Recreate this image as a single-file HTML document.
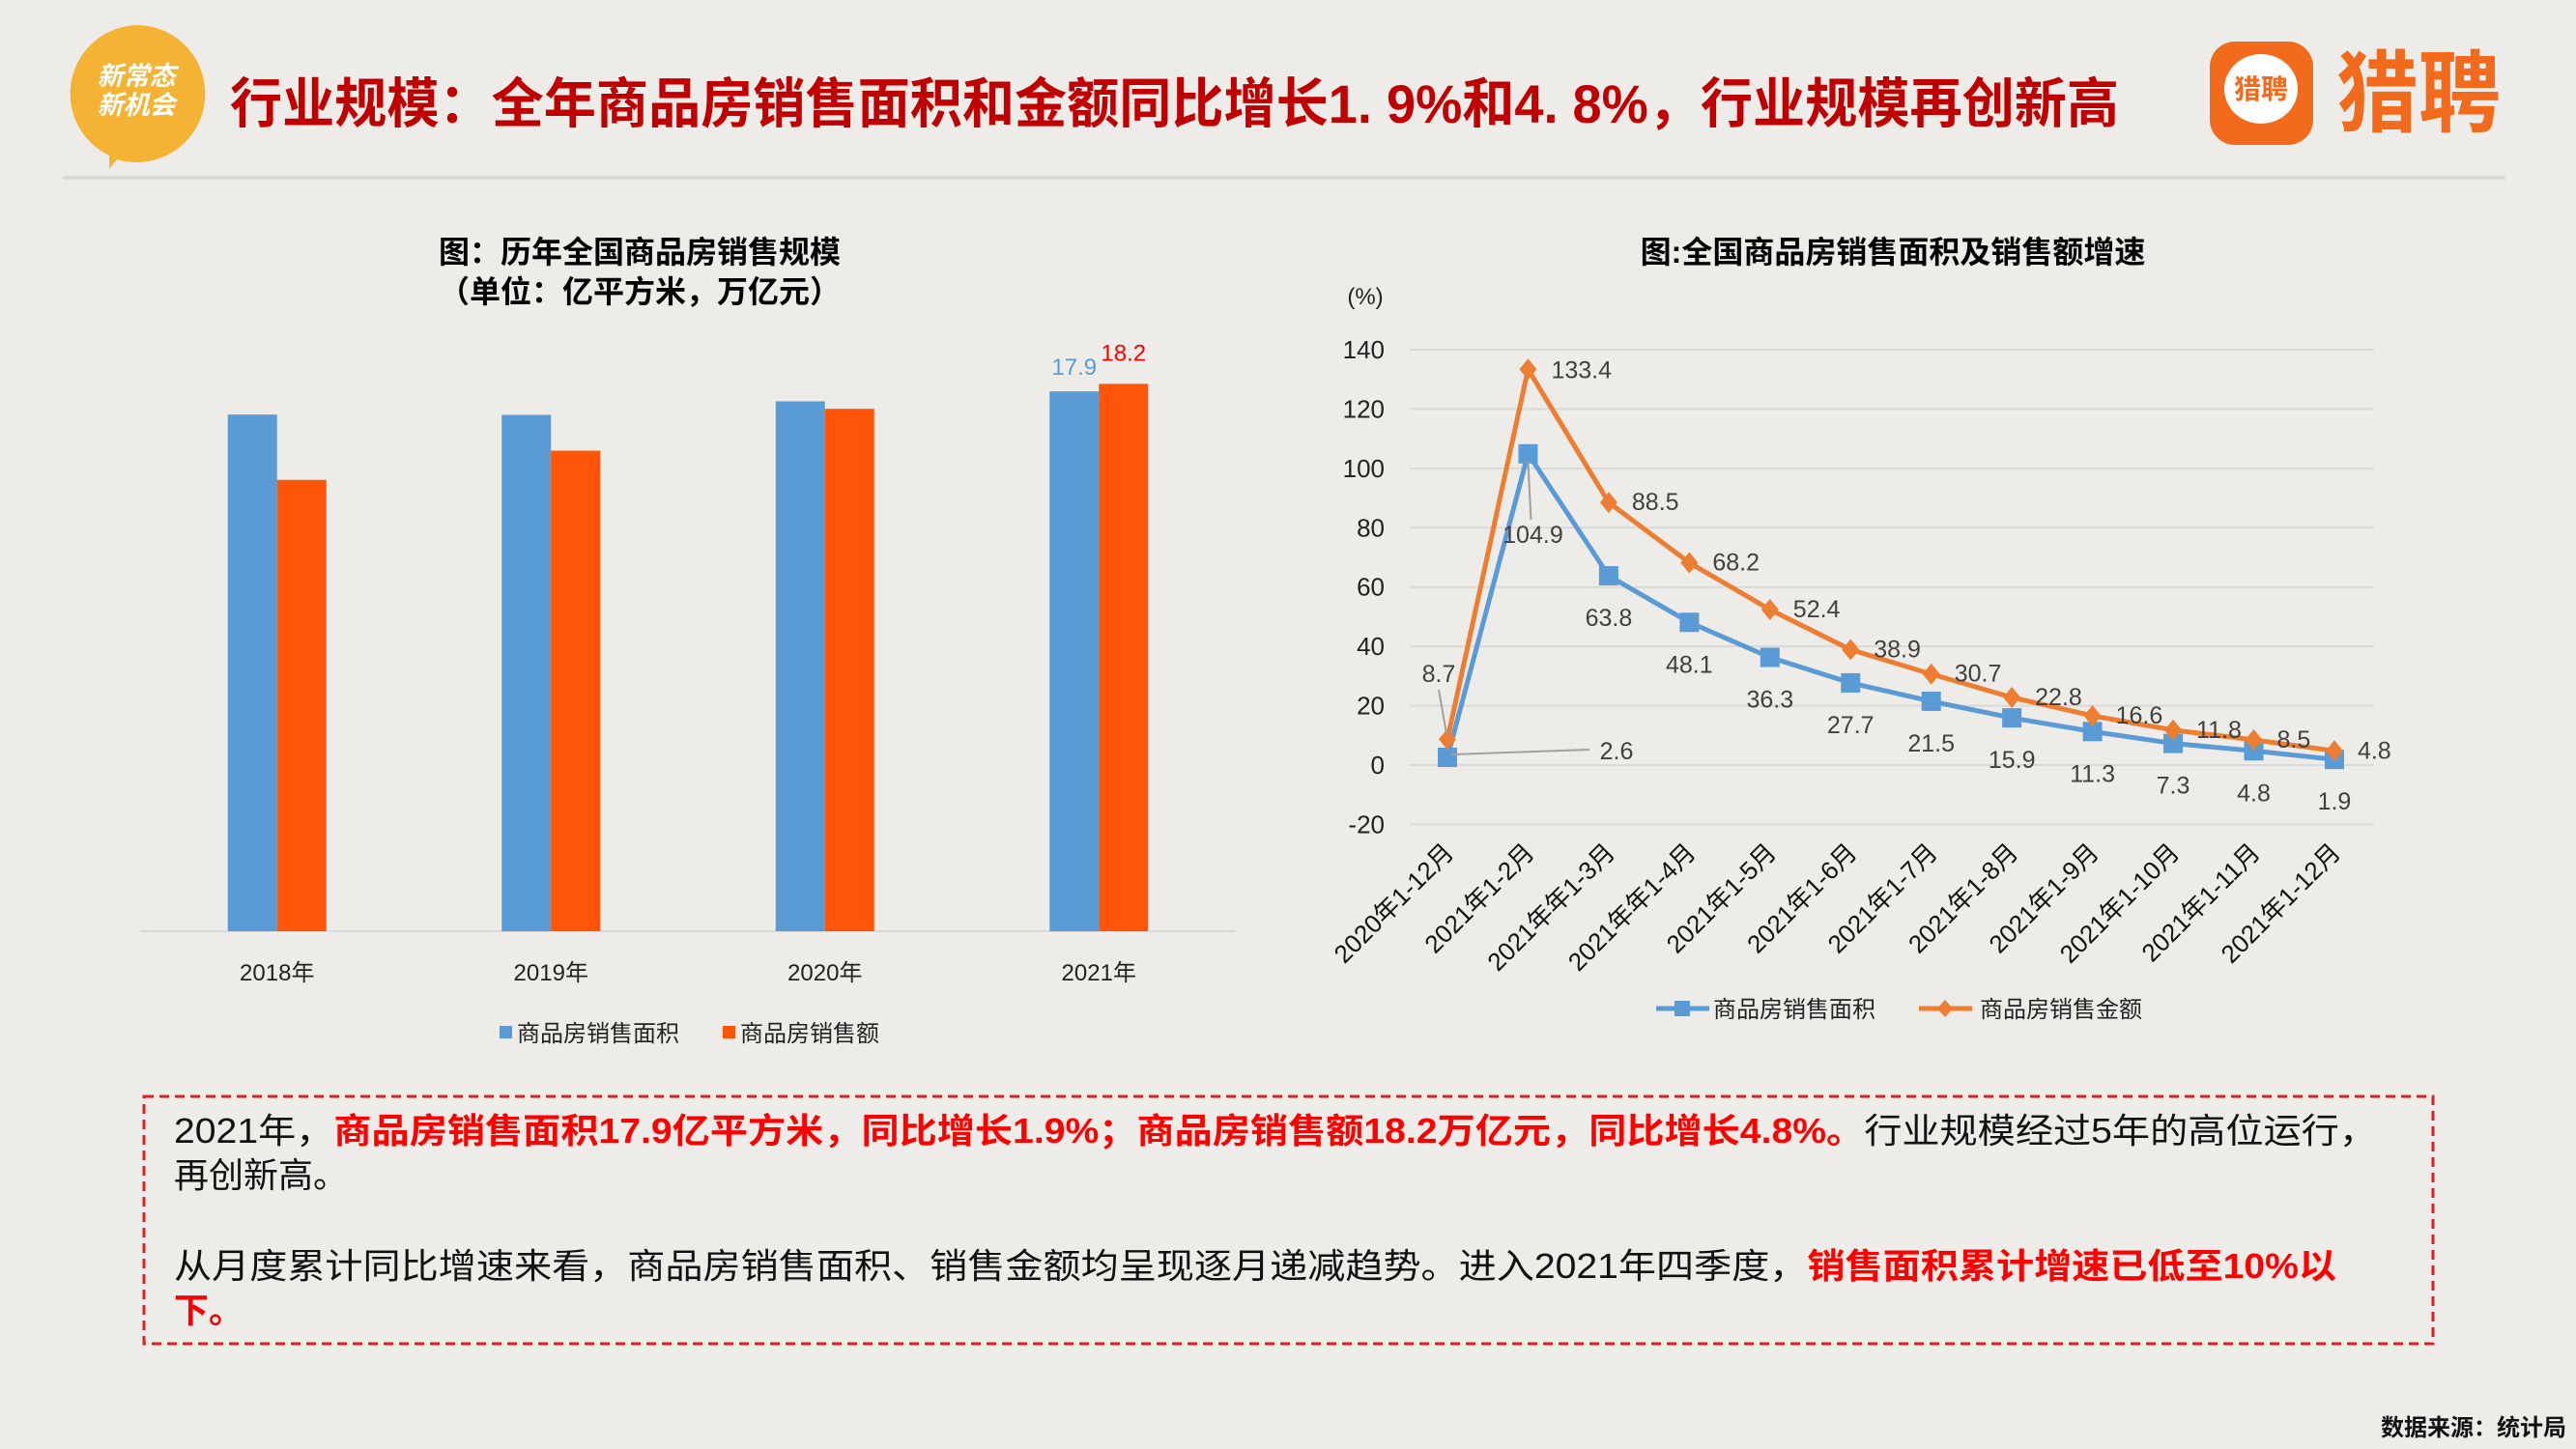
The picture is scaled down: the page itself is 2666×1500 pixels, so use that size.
<!DOCTYPE html>
<html><head><meta charset="utf-8"><style>
html,body{margin:0;padding:0;background:#eeece8;}
svg{display:block;font-family:"Liberation Sans","Noto Sans CJK SC",sans-serif;}
</style></head><body>
<svg id="s" width="2666" height="1500" viewBox="0 0 2666 1500" xmlns="http://www.w3.org/2000/svg">
<rect width="2666" height="1500" fill="#eeece8"/>
<g>
<path d="M141 26 a71 71 0 1 1 -20 139 l-8 10 l0 -14 a71 71 0 0 1 28 -135z" fill="#f5b335"/>
<text x="141" y="88" font-size="27" font-weight="bold" fill="#fff" text-anchor="middle" font-style="italic">新常态</text>
<text x="141" y="118" font-size="27" font-weight="bold" fill="#fff" text-anchor="middle" font-style="italic">新机会</text>
</g>
<text x="238" y="127" font-size="56" font-weight="bold" fill="#c00000" textLength="1955" lengthAdjust="spacingAndGlyphs">行业规模：全年商品房销售面积和金额同比增长1. 9%和4. 8%，行业规模再创新高</text>
<g>
<rect x="2287" y="43" width="107" height="107" rx="26" fill="#f26b1d"/>
<ellipse cx="2340" cy="92" rx="38" ry="36" fill="#fff"/>
<text x="2340" y="102" font-size="28" font-weight="bold" fill="#f26b1d" text-anchor="middle">猎聘</text>
<text x="2418" y="129" font-size="92" font-weight="bold" fill="#f26b1d" textLength="170" lengthAdjust="spacingAndGlyphs">猎聘</text>
</g>
<rect x="65" y="182" width="2528" height="4" fill="#d9d7d3"/>

<text x="662" y="272" font-size="32" font-weight="bold" fill="#000" text-anchor="middle">图：历年全国商品房销售规模</text>
<text x="662" y="313" font-size="32" font-weight="bold" fill="#000" text-anchor="middle">（单位：亿平方米，万亿元）</text>
<g id="barChart"></g>

<text x="1959" y="272" font-size="32" font-weight="bold" fill="#000" text-anchor="middle">图:全国商品房销售面积及销售额增速</text>
<g id="lineChart"></g>

<rect x="149" y="1135" width="2369" height="256" fill="none" stroke="#e02020" stroke-width="3" stroke-dasharray="10,6"/>
<text x="180" y="1183" font-size="36" fill="#111" textLength="2280" lengthAdjust="spacingAndGlyphs">2021年，<tspan fill="#ff0000" font-weight="bold">商品房销售面积17.9亿平方米，同比增长1.9%；商品房销售额18.2万亿元，同比增长4.8%。</tspan>行业规模经过5年的高位运行，</text>
<text x="180" y="1229" font-size="36" fill="#111">再创新高。</text>
<text x="180" y="1323" font-size="36" fill="#111" textLength="2238" lengthAdjust="spacingAndGlyphs">从月度累计同比增速来看，商品房销售面积、销售金额均呈现逐月递减趋势。进入2021年四季度，<tspan fill="#ff0000" font-weight="bold">销售面积累计增速已低至10%以</tspan></text>
<text x="180" y="1369" font-size="36" fill="#ff0000" font-weight="bold">下。</text>
<text x="2656" y="1486" font-size="24" font-weight="bold" fill="#111" text-anchor="end">数据来源：统计局</text>
</svg>
<script>
const NS="http://www.w3.org/2000/svg";
// Bar chart data
const barYears=["2018年","2019年","2020年","2021年"];
const areaValues=[17.17,17.16,17.61,17.94];
const salesValues=[15.0,15.97,17.36,18.19];
// Line chart data
const monthCats=["2020年1-12月","2021年1-2月","2021年年1-3月","2021年年1-4月","2021年1-5月","2021年1-6月","2021年1-7月","2021年1-8月","2021年1-9月","2021年1-10月","2021年1-11月","2021年1-12月"];
const areaGrowth=[2.6,104.9,63.8,48.1,36.3,27.7,21.5,15.9,11.3,7.3,4.8,1.9];
const salesGrowth=[8.7,133.4,88.5,68.2,52.4,38.9,30.7,22.8,16.6,11.8,8.5,4.8];
const yTicks=[-20,0,20,40,60,80,100,120,140];

function mk(tag,attrs,parent,txt){const e=document.createElementNS(NS,tag);for(const k in attrs)e.setAttribute(k,attrs[k]);if(txt!==undefined)e.textContent=txt;parent.appendChild(e);return e;}

// ---- bar chart ----
const bc=document.getElementById('barChart');
const bBase=964,bUnit=31.15,bX0=145,bX1=1279,bw=51;
const bGroup=i=>bX0+(bX1-bX0)/barYears.length*(i+0.5);
const bY=v=>bBase-v*bUnit;
let ax=mk('line',{x1:bX0,x2:bX1,y1:bBase,y2:bBase,stroke:'#d9d9d9','stroke-width':2},bc);


barYears.forEach((yr,i)=>{
  const c=bGroup(i);
  let r1=mk('rect',{x:c-bw,y:bY(areaValues[i]),width:bw,height:bBase-bY(areaValues[i]),fill:'#5b9bd5'},bc);
  
  
  let r2=mk('rect',{x:c,y:bY(salesValues[i]),width:bw,height:bBase-bY(salesValues[i]),fill:'#ff5508'},bc);
  
  
  let t=mk('text',{x:c,y:1015,'font-size':24,fill:'#222','text-anchor':'middle'},bc,yr);
  
  
});
const li=barYears.length-1;
let l1=mk('text',{x:bGroup(li)-bw/2,y:bY(areaValues[li])-17,'font-size':24,fill:'#5b9bd5','text-anchor':'middle'},bc,areaValues[li].toFixed(1));


let l2=mk('text',{x:bGroup(li)+bw/2,y:bY(salesValues[li])-24,'font-size':24,fill:'#ff0000','text-anchor':'middle'},bc,salesValues[li].toFixed(1));


// legend
let lg=mk('g',{},bc);


mk('rect',{x:517,y:1062,width:13,height:13,fill:'#5b9bd5'},lg);
mk('text',{x:535,y:1078,'font-size':24,fill:'#222'},lg,'商品房销售面积');
mk('rect',{x:748,y:1062,width:13,height:13,fill:'#ff5508'},lg);
mk('text',{x:766,y:1078,'font-size':24,fill:'#222'},lg,'商品房销售额');

// ---- line chart ----
const lc=document.getElementById('lineChart');
const gX0=1459,gX1=2457,pX0=1498,pStep=83.45;
const lx=i=>pX0+i*pStep;
const ly=v=>792-v*(430/140);
yTicks.forEach(v=>{
  let g=mk('line',{x1:gX0,x2:gX1,y1:ly(v),y2:ly(v),stroke:'#d9d9d9','stroke-width':2},lc);
  
  
  let t=mk('text',{x:1433,y:ly(v)+9,'font-size':26,fill:'#222','text-anchor':'end'},lc,String(v));
  
  
});
let yu=mk('text',{x:1413,y:315,'font-size':24,fill:'#222','text-anchor':'middle'},lc,'(%)');


monthCats.forEach((c,i)=>{
  let t=mk('text',{x:0,y:0,'font-size':26,fill:'#111','text-anchor':'end',transform:`translate(${lx(i)+8},${884}) rotate(-45)`},lc,c);
  
  
});
function series(vals,color,name){
  const g=mk('g',{},lc);
  
  
  const p=mk('polyline',{points:vals.map((v,i)=>lx(i)+','+ly(v)).join(' '),fill:'none',stroke:color,'stroke-width':5,'stroke-linejoin':'round'},g);
  
  
  return g;
}
const ga=series(areaGrowth,'#5b9bd5','area-growth-series');
const gs=series(salesGrowth,'#ed7d31','sales-growth-series');
areaGrowth.forEach((v,i)=>{
  let m=mk('rect',{x:lx(i)-10,y:ly(v)-10,width:20,height:20,fill:'#5b9bd5'},ga);
  
  
});
salesGrowth.forEach((v,i)=>{
  const x=lx(i),y=ly(v);
  let m=mk('polygon',{points:`${x},${y-11} ${x+9},${y} ${x},${y+11} ${x-9},${y}`,fill:'#ed7d31'},gs);
  
  
});
// labels
areaGrowth.forEach((v,i)=>{
  let x=lx(i),y=ly(v)+52;
  if(i===0){x=1673;y=786;mk('polyline',{points:`${lx(0)+4},${ly(v)-3} ${1645},${776}`,stroke:'#a0a0a0','stroke-width':2,fill:'none'},ga);}
  if(i===1){x=lx(1)+5;y=562;mk('line',{x1:lx(1),y1:ly(v)+8,x2:lx(1)+3,y2:538,stroke:'#a0a0a0','stroke-width':2},ga);}
  let t=mk('text',{x:x,y:y,'font-size':25,fill:'#404040','text-anchor':'middle'},ga,v.toFixed(1));
  
  
});
salesGrowth.forEach((v,i)=>{
  let x=lx(i)+24,y=ly(v)+8,anchor='start';
  if(i===0){x=1489;y=706;anchor='middle';mk('line',{x1:1489,y1:714,x2:lx(0)-1,y2:ly(v)-6,stroke:'#a0a0a0','stroke-width':2},gs);}
  if(i===1){y=ly(v)+9;}
  let t=mk('text',{x:x,y:y,'font-size':25,fill:'#404040','text-anchor':anchor},gs,v.toFixed(1));
  
  
});
// legend
const lg2=mk('g',{},lc);


mk('line',{x1:1714,x2:1769,y1:1044,y2:1044,stroke:'#5b9bd5','stroke-width':5},lg2);
mk('rect',{x:1733,y:1036,width:16,height:16,fill:'#5b9bd5'},lg2);
mk('text',{x:1773,y:1053,'font-size':24,fill:'#222'},lg2,'商品房销售面积');
mk('line',{x1:1986,x2:2041,y1:1044,y2:1044,stroke:'#ed7d31','stroke-width':5},lg2);
mk('polygon',{points:'2013,1035 2021,1044 2013,1053 2005,1044',fill:'#ed7d31'},lg2);
mk('text',{x:2049,y:1053,'font-size':24,fill:'#222'},lg2,'商品房销售金额');
</script>
</body></html>
